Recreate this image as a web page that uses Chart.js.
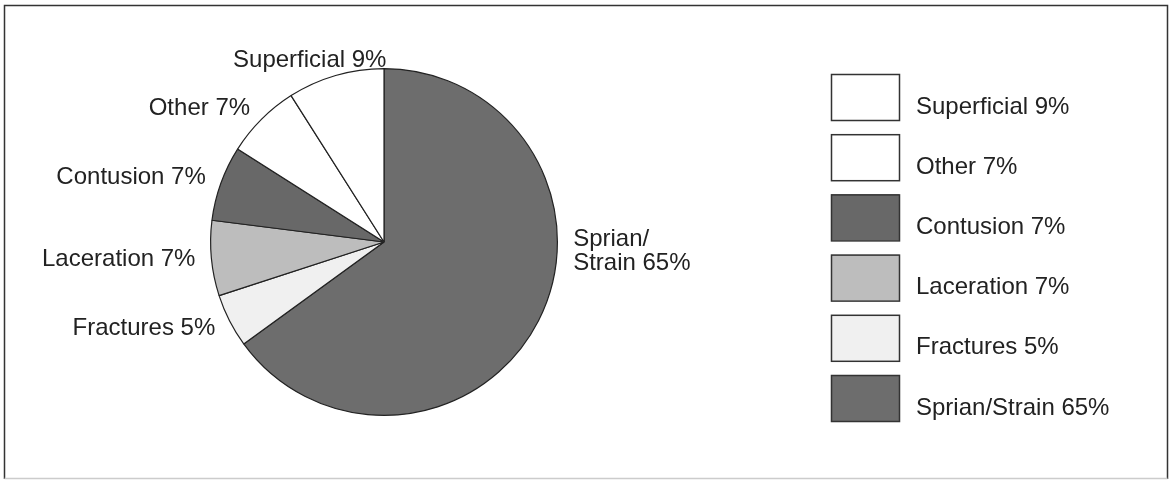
<!DOCTYPE html>
<html>
<head>
<meta charset="utf-8">
<script src="https://cdn.jsdelivr.net/npm/chart.js@4"></script>
<style>
  html, body { margin: 0; padding: 0; background: #fff; }
  #wrap { width: 1171px; height: 480px; }
</style>
</head>
<body>
<div id="wrap"><canvas id="chart" width="1171" height="480"></canvas></div>
<script>
// ===== data (clockwise from 12 o'clock) =====
const categories = ["Sprian/Strain", "Fractures", "Laceration", "Contusion", "Other", "Superficial"];
const values = [65, 5, 7, 7, 7, 9];
const colors = ["#6d6d6d", "#f0f0f0", "#bdbdbd", "#686868", "#ffffff", "#ffffff"];

const FONT = "24px 'Liberation Sans', Arial, sans-serif";
const TEXT = "#222";

function labelOf(i) {
  return categories[i] + " " + values[i] + "%";
}

// ===== labels around the pie =====
const pieLabels = {
  id: "pieLabels",
  afterDatasetsDraw(chart) {
    const ctx = chart.ctx;
    const arcs = chart.getDatasetMeta(0).data;
    ctx.save();
    ctx.font = FONT;
    ctx.fillStyle = TEXT;
    ctx.textBaseline = "middle";

    arcs.forEach((arc, i) => {
      const { x, y, startAngle, endAngle, outerRadius } = arc.getProps(["x", "y", "startAngle", "endAngle", "outerRadius"], true);
      let a = (startAngle + endAngle) / 2;
      // big slice crossing 3 o'clock: put label at the right side
      if (startAngle < 0.1 && endAngle > 0.1) a = 0.05;
      const r = outerRadius + 16;
      const ax = x + Math.cos(a) * r;
      const ay = y + Math.sin(a) * r;
      const lines = i === 0 ? ["Sprian/", "Strain " + values[i] + "%"] : [labelOf(i)];
      const lh = 24;
      lines.forEach((t, k) => {
        const w = ctx.measureText(t).width;
        const c = Math.cos(a);
        let left;
        if (c > 0.5) left = ax;
        else if (c < -0.5) left = ax - w;
        else left = ax - w * (1 - c) / 2;
        ctx.textAlign = "left";
        ctx.fillText(t, left, ay + (k - (lines.length - 1) / 2) * lh);
      });
    });
    ctx.restore();
  }
};

// ===== legend boxes on the right + outer frame =====
const boxLegend = {
  id: "boxLegend",
  afterDraw(chart) {
    const ctx = chart.ctx;
    ctx.save();
    const order = categories.map((_, i) => i).reverse();
    order.forEach((idx, row) => {
      const bx = 831, by = 74 + row * 60.2;
      ctx.fillStyle = colors[idx];
      ctx.fillRect(bx, by, 68, 46);
      ctx.strokeStyle = "#333";
      ctx.lineWidth = 1.5;
      ctx.strokeRect(bx + 0.5, by + 0.5, 68, 46);
      ctx.font = FONT;
      ctx.fillStyle = TEXT;
      ctx.textAlign = "left";
      ctx.textBaseline = "middle";
      ctx.fillText(labelOf(idx), 916, by + 33);
    });

    // frame
    ctx.strokeStyle = "#333";
    ctx.lineWidth = 1.5;
    ctx.beginPath();
    ctx.moveTo(4.5, 479);
    ctx.lineTo(4.5, 5.5);
    ctx.lineTo(1167.5, 5.5);
    ctx.lineTo(1167.5, 479);
    ctx.stroke();
    ctx.strokeStyle = "#ccc";
    ctx.beginPath();
    ctx.moveTo(4.5, 478.5);
    ctx.lineTo(1167.5, 478.5);
    ctx.stroke();
    ctx.restore();
  }
};

new Chart(document.getElementById("chart"), {
  type: "pie",
  data: {
    labels: categories,
    datasets: [{
      data: values,
      backgroundColor: colors,
      borderColor: "#222",
      borderWidth: 1.2
    }]
  },
  options: {
    responsive: false,
    animation: false,
    layout: { padding: { left: 210, right: 613, top: 68, bottom: 64 } },
    plugins: {
      legend: { display: false },
      tooltip: { enabled: false }
    }
  },
  plugins: [pieLabels, boxLegend]
});
</script>
</body>
</html>
